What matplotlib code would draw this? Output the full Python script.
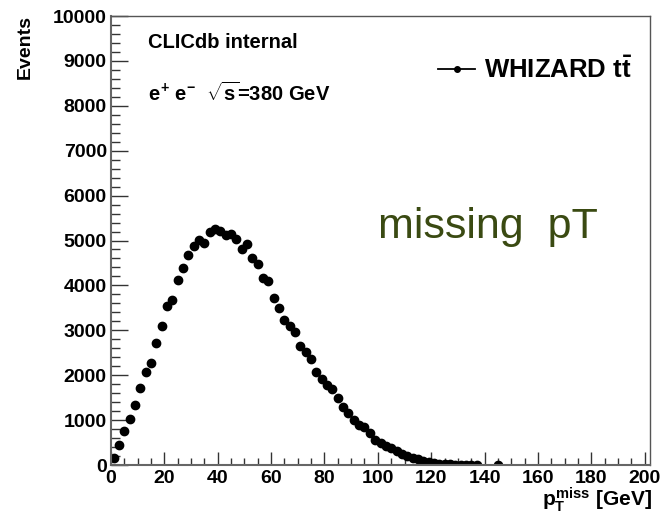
import matplotlib
matplotlib.use("Agg")
import matplotlib.pyplot as plt
from matplotlib.ticker import MultipleLocator

# missing pT histogram, 2 GeV bins (bin centres)
pt_centres = [1, 3, 5, 7, 9, 11, 13, 15, 17, 19, 21, 23, 25, 27, 29, 31, 33, 35, 37, 39,
              41, 43, 45, 47, 49, 51, 53, 55, 57, 59, 61, 63, 65, 67, 69, 71, 73, 75, 77, 79,
              81, 83, 85, 87, 89, 91, 93, 95, 97, 99, 101, 103, 105, 107, 109, 111, 113, 115, 117, 119,
              121, 123, 125, 127, 129, 131, 133, 135, 137, 145]
events = [150, 446, 765, 1025, 1330, 1724, 2080, 2273, 2727, 3098,
          3552, 3670, 4116, 4391, 4681, 4874, 5008, 4941, 5179, 5260,
          5201, 5119, 5134, 5030, 4800, 4919, 4614, 4473, 4161, 4094,
          3730, 3507, 3240, 3098, 2972, 2660, 2519, 2363, 2066, 1924,
          1783, 1694, 1501, 1300, 1152, 1003, 892, 840, 706, 550,
          483, 431, 386, 312, 245, 208, 163, 126, 89, 67,
          37, 22, 15, 12, 10, 8, 6, 5, 4, 3]

plt.rcParams['font.family'] = ['Liberation Sans', 'DejaVu Sans']
plt.rcParams['font.weight'] = 'bold'
plt.rcParams['mathtext.fontset'] = 'custom'
plt.rcParams['mathtext.rm'] = 'Liberation Sans:bold'
plt.rcParams['mathtext.it'] = 'Liberation Sans:bold'
plt.rcParams['mathtext.bf'] = 'Liberation Sans:bold'

W, H = 665, 519
fig = plt.figure(figsize=(W / 100, H / 100), dpi=100)
ax = fig.add_axes([111 / W, (H - 465) / H, (650 - 111) / W, (465 - 16) / H])

ax.plot(pt_centres, events, 'o', color='black', markersize=6, label='WHIZARD')

ax.set_xlim(0, 202)
ax.set_ylim(0, 10000)

# ROOT style axes
for side in ['left', 'bottom']:
    ax.spines[side].set_color('#666666')
    ax.spines[side].set_linewidth(1.5)
for side in ['top', 'right']:
    ax.spines[side].set_color('#555555')
    ax.spines[side].set_linewidth(1.0)

ax.xaxis.set_major_locator(MultipleLocator(20))
ax.xaxis.set_minor_locator(MultipleLocator(5))
ax.yaxis.set_major_locator(MultipleLocator(1000))
ax.yaxis.set_minor_locator(MultipleLocator(200))
ax.tick_params(axis='both', which='both', direction='in', color='#333333', width=1.0,
               top=False, right=False, labelsize=14)
ax.tick_params(axis='x', which='major', length=9.5, pad=3.5)
ax.tick_params(axis='x', which='minor', length=5)
ax.tick_params(axis='y', which='major', length=12, pad=3)
ax.tick_params(axis='y', which='minor', length=6.5)

fig.text(652 / W, 1 - 506 / H, r'$p_T^{miss}$ [GeV]', ha='right', va='baseline', fontsize=15)
fig.text(25.5 / W, 1 - 15 / H, 'Events', rotation=90, ha='center', va='top', fontsize=14)

fig.text(148 / W, 1 - 42 / H, 'CLICdb internal', ha='left', va='center', fontsize=14.5)
fig.text(148 / W, 1 - 93 / H, r'$e^{+}$ $e^{-}$  $\sqrt{s}$=380 GeV', ha='left', va='center', fontsize=14.5)

ax.text(0.495, 0.53, 'missing  pT', transform=ax.transAxes, fontsize=31, fontweight='normal',
        color='#3a4a12', ha='left', va='center')

h, = ax.plot([], [], '-o', color='black', markersize=4, linewidth=1.3)
ax.legend([h], [r'WHIZARD $t\bar{t}$'], loc='center left',
          bbox_to_anchor=(438 / W, 1 - 70 / H), bbox_transform=fig.transFigure,
          frameon=False, fontsize=18.5, handlelength=1.45, handletextpad=0.35,
          borderpad=0, borderaxespad=0, numpoints=1)

fig.savefig('out.png', dpi=100)
